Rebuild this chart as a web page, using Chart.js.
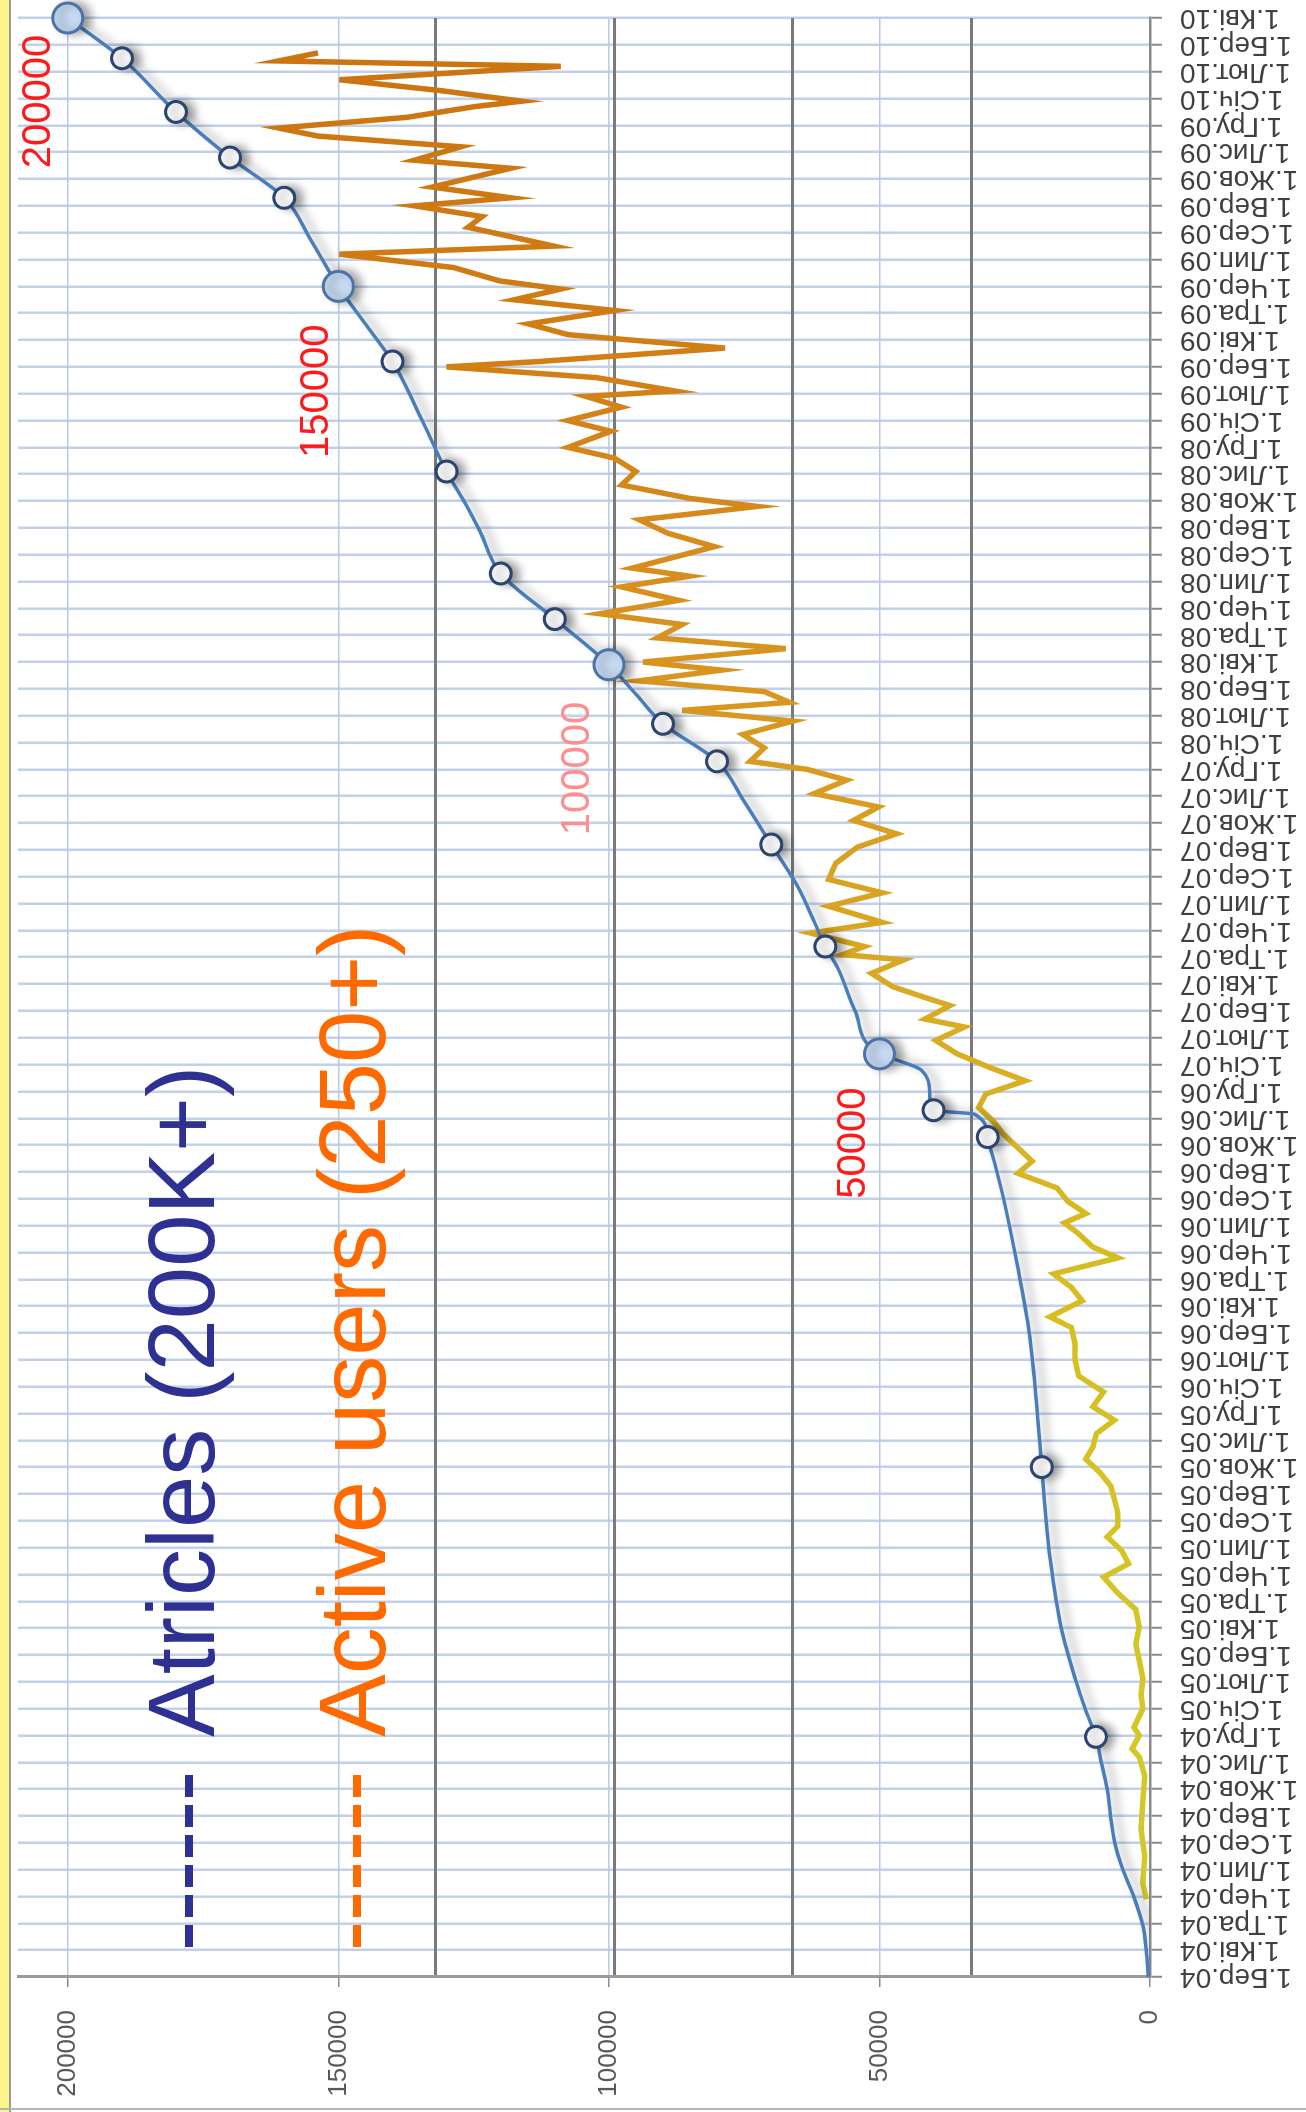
<!DOCTYPE html>
<html>
<head>
<meta charset="utf-8">
<title>Articles and active users</title>
<script src="https://cdn.jsdelivr.net/npm/chart.js@4.4.1/dist/chart.umd.min.js"></script>
<style>
  html, body { margin: 0; padding: 0; width: 1306px; height: 2112px; overflow: hidden; background: #fff; }
  /* the whole chart is laid out landscape and then turned a quarter left */
  #frame {
    position: absolute; left: 0; top: 0; width: 2112px; height: 1306px;
    transform-origin: 0 0; transform: translateY(2112px) rotate(-90deg);
    background: #fff;
  }
  #chartBox { position: absolute; left: 0; top: 0; width: 2112px; height: 1306px; }
  #band { position: absolute; left: 0; top: 0; width: 2112px; height: 9px; background: #fbf58c; border-bottom: 2px solid #9c9c9c; }
  #edge { position: absolute; left: 2px; top: 0; width: 2px; height: 1306px; background: #b4b4b4; }
  .key { position: absolute; left: 165px; width: 180px; height: 8px; }
  .keyText {
    position: absolute; left: 375px; white-space: nowrap;
    font-family: "Liberation Sans", Arial, sans-serif; font-size: 94px; line-height: 94px;
  }
</style>
</head>
<body>
<div id="frame">
  <div id="chartBox"><canvas id="growthChart"></canvas></div>
  <div id="band"></div>
  <div id="edge"></div>
  <div class="key" style="top:185px; background: repeating-linear-gradient(to right, #2e3192 0 22px, transparent 22px 30px);"></div>
  <div class="keyText" style="top:135px; color:#2e3192;">Atricles (200K+)</div>
  <div class="key" style="top:353px; background: repeating-linear-gradient(to right, #ff6a00 0 22px, transparent 22px 30px);"></div>
  <div class="keyText" style="top:306px; color:#ff6a00;">Active users (250+)</div>
</div>
<script>
// month ticks, 1 March 2004 .. 1 April 2010
const monthLabels = [
  '1.Бер.04', '1.Кві.04', '1.Тра.04', '1.Чер.04', '1.Лип.04', '1.Сер.04', '1.Вер.04', '1.Жов.04', '1.Лис.04', '1.Гру.04',
  '1.Січ.05', '1.Лют.05', '1.Бер.05', '1.Кві.05', '1.Тра.05', '1.Чер.05', '1.Лип.05', '1.Сер.05', '1.Вер.05', '1.Жов.05', '1.Лис.05', '1.Гру.05',
  '1.Січ.06', '1.Лют.06', '1.Бер.06', '1.Кві.06', '1.Тра.06', '1.Чер.06', '1.Лип.06', '1.Сер.06', '1.Вер.06', '1.Жов.06', '1.Лис.06', '1.Гру.06',
  '1.Січ.07', '1.Лют.07', '1.Бер.07', '1.Кві.07', '1.Тра.07', '1.Чер.07', '1.Лип.07', '1.Сер.07', '1.Вер.07', '1.Жов.07', '1.Лис.07', '1.Гру.07',
  '1.Січ.08', '1.Лют.08', '1.Бер.08', '1.Кві.08', '1.Тра.08', '1.Чер.08', '1.Лип.08', '1.Сер.08', '1.Вер.08', '1.Жов.08', '1.Лис.08', '1.Гру.08',
  '1.Січ.09', '1.Лют.09', '1.Бер.09', '1.Кві.09', '1.Тра.09', '1.Чер.09', '1.Лип.09', '1.Сер.09', '1.Вер.09', '1.Жов.09', '1.Лис.09', '1.Гру.09',
  '1.Січ.10', '1.Лют.10', '1.Бер.10', '1.Кві.10'
];

// value axis ticks (articles) and the grid of the hidden users axis
const articleTicks = [0, 50000, 100000, 150000, 200000];
const userGridTicks = [50, 100, 150, 200];

// article count, x = months since 1.Бер.04
const articleMonths = [0, 1, 1.9, 3, 4, 5, 6, 7, 8, 8.95, 10, 11.1, 13, 15.5, 17.5, 19, 21.5, 24, 26.5, 28.95,
  30.4, 31.3, 32.15, 32.3, 32.9, 33.8, 34.15, 34.4, 36, 37.6, 38.4, 39.3, 40.6, 42.2, 43.8, 45.3, 46.7, 47.8, 48.9,
  50.6, 52.3, 53.9, 54.9, 56.1, 58, 60.2, 61.6, 63, 64.7, 66.3, 67.8, 69.5, 71.5, 73];
const articleValues = [300, 700, 1300, 3000, 5000, 6500, 7300, 7900, 9000, 10000, 12000, 13800, 16400, 18400, 19400, 20000, 21000, 22300, 24500, 27000,
  28800, 30000, 32400, 40000, 40700, 42300, 46500, 50000, 54500, 57700, 60000, 62000, 65000, 70000, 75000, 80000, 90000, 95000, 100000,
  110000, 120000, 123900, 126500, 130000, 134500, 140000, 145000, 150000, 155000, 160000, 170000, 180000, 190000, 200000];

// every 10 000 articles
const milestoneMonths = [8.95, 19.0, 31.3, 32.3, 34.4, 38.4, 42.2, 45.3, 46.7, 48.9, 50.6, 52.3, 56.1, 60.2, 63.0, 66.3, 67.8, 69.5, 71.5, 73.0];
const milestoneValues = [10000, 20000, 30000, 40000, 50000, 60000, 70000, 80000, 90000, 100000,
  110000, 120000, 130000, 140000, 150000, 160000, 170000, 180000, 190000, 200000];

// active users (right hand scale, not labelled)
const userMonths = [2.9, 3.5, 4.5, 5.5, 6.5, 7.5, 8.2, 8.5, 9.0, 9.3,
  10.0, 10.5, 11.1, 11.8, 12.4, 13.05, 13.7, 14.3, 14.9, 15.4,
  15.9, 16.4, 16.8, 17.3, 17.8, 18.3, 18.8, 19.3, 19.75, 20.25,
  20.75, 21.25, 21.8, 22.4, 23.0, 23.6, 24.2, 24.6, 25.2, 25.7,
  26.2, 26.8, 27.2, 27.7, 28.1, 28.45, 28.9, 29.4, 29.95, 30.4,
  30.9, 31.4, 31.9, 32.4, 32.9, 33.4, 33.9, 34.4, 34.9, 35.4,
  35.7, 36.2, 36.5, 36.9, 37.4, 37.9, 38.1, 38.4, 38.9, 39.3,
  39.9, 40.4, 40.9, 41.5, 42.1, 42.6, 43.1, 43.6, 44.1, 44.6,
  45.0, 45.3, 45.8, 46.3, 46.8, 47.2, 47.5, 47.9, 48.3, 48.7,
  49.0, 49.5, 49.9, 50.4, 50.8, 51.3, 51.8, 52.2, 52.5, 53.3,
  53.8, 54.3, 54.8, 55.1, 55.6, 56.1, 56.6, 57.0, 57.6, 58.0,
  58.5, 58.9, 59.1, 59.6, 60.0, 60.2, 60.7, 61.2, 61.6, 62.1,
  62.5, 62.9, 63.2, 63.7, 64.2, 64.5, 65.0, 65.2, 65.6, 66.0,
  66.3, 66.7, 67.4, 67.7, 68.2, 68.6, 68.9, 69.3, 69.7, 69.9,
  70.3, 70.7, 71.2, 71.4, 71.7];
const userCounts = [1, 2, 1.5, 2.5, 2, 1.5, 3, 5, 3, 4.5,
  2, 2.5, 2, 3, 4, 3, 4, 9, 13, 6,
  8, 12, 9, 9, 10, 11, 14, 18, 16, 15,
  10, 16, 13, 20, 21, 21, 22, 28, 19, 22,
  27, 9, 16, 20, 24, 18, 23, 26, 37, 33,
  37, 41, 44, 48, 46, 35, 45, 54, 60, 52,
  63, 56, 63, 72, 78, 69, 86, 80, 95, 75,
  90, 75, 90, 88, 82, 71, 83, 76, 94, 85,
  96, 112, 108, 114, 100, 131, 101, 108, 143, 120,
  142, 102, 138, 131, 154, 132, 148, 129, 145, 122,
  135, 143, 110, 129, 148, 144, 150, 163, 151, 163,
  148, 158, 133, 155, 197, 171, 119, 163, 174, 150,
  178, 165, 182, 195, 227, 167, 184, 191, 187, 206,
  179, 201, 179, 206, 193, 233, 244, 208, 189, 176,
  199, 227, 165, 244, 233];

// red notes next to the curve, anchored in data units
const noteTexts = ['200000', '150000', '100000', '50000'];
const noteMonths = [67.4, 56.6, 42.55, 29.0];
const noteValues = [203300, 152000, 103700, 52600];
const noteColors = ['#ff1a1a', '#ff1a1a', '#ff8f8f', '#ff1a1a'];

const tickFont = '"Liberation Sans", Arial, sans-serif';

// soft drop shadow under the article curve and its markers
const shadowPlugin = {
    id: 'lineShadow',
    beforeDatasetDraw(chart, args) {
        if (!chart.data.datasets[args.index].shadow) return;
        const c = chart.ctx;
        c.save();
        c.shadowColor = 'rgba(0, 0, 0, 0.35)';
        c.shadowBlur = 10;
        c.shadowOffsetX = 0;
        c.shadowOffsetY = 7;
    },
    afterDatasetDraw(chart, args) {
        if (chart.data.datasets[args.index].shadow) chart.ctx.restore();
    }
};

const notePlugin = {
    id: 'notes',
    afterDatasetsDraw(chart) {
        const { ctx, scales } = chart;
        ctx.save();
        ctx.font = '40px ' + tickFont;
        ctx.textAlign = 'left';
        ctx.textBaseline = 'alphabetic';
        noteTexts.forEach((t, i) => {
            ctx.fillStyle = noteColors[i];
            ctx.fillText(t, scales.x.getPixelForValue(noteMonths[i]), scales.y.getPixelForValue(noteValues[i]));
        });
        ctx.restore();
    }
};

// users line goes from olive yellow to orange-brown over time
function userColor(context) {
    const { ctx, chartArea } = context.chart;
    if (!chartArea) return '#d6b020';
    const g = ctx.createLinearGradient(chartArea.left, 0, chartArea.right, 0);
    g.addColorStop(0, '#d2cc2c');
    g.addColorStop(0.35, '#d6be20');
    g.addColorStop(0.5, '#d9aa24');
    g.addColorStop(0.7, '#d8901e');
    g.addColorStop(0.85, '#d07c14');
    g.addColorStop(1, '#cc7410');
    return g;
}

const isBig = c => milestoneValues[c.dataIndex] % 50000 === 0;

// keep the plot edges where the layout padding puts them
function noEdgePadding(s) {
    s.paddingLeft = 0;
    s.paddingRight = 0;
    s.paddingTop = 0;
    s.paddingBottom = 0;
}

new Chart(document.getElementById('growthChart'), {
    type: 'line',
    data: {
        datasets: [{
            label: 'Milestones',
            data: milestoneMonths.map((m, i) => ({ x: m, y: milestoneValues[i] })),
            showLine: false,
            yAxisID: 'y',
            order: 0,
            clip: false,
            shadow: true,
            pointRadius: c => isBig(c) ? 15 : 10.5,
            pointBackgroundColor: c => isBig(c) ? '#c6daf2' : '#ffffff',
            pointBorderColor: c => isBig(c) ? '#4d72a8' : '#2c4470',
            pointBorderWidth: 3
        }, {
            label: 'Atricles',
            data: articleMonths.map((m, i) => ({ x: m, y: articleValues[i] })),
            borderColor: '#4a7ebb',
            borderWidth: 3.5,
            pointRadius: 0,
            cubicInterpolationMode: 'monotone',
            yAxisID: 'y',
            order: 1,
            shadow: true
        }, {
            label: 'Active users',
            data: userMonths.map((m, i) => ({ x: m, y: userCounts[i] })),
            borderColor: userColor,
            borderWidth: 5.5,
            pointRadius: 0,
            tension: 0,
            yAxisID: 'y2',
            order: 2
        }]
    },
    options: {
        responsive: true,
        maintainAspectRatio: false,
        animation: false,
        layout: { padding: { top: 12, right: 18, bottom: 0, left: 0 } },
        plugins: { legend: { display: false }, tooltip: { enabled: false } },
        scales: {
            x: {
                type: 'linear',
                position: 'bottom',
                min: 0,
                max: monthLabels.length - 1,
                afterBuildTicks: s => { s.ticks = monthLabels.map((_, i) => ({ value: i })); },
                afterFit: s => { s.height = 156; noEdgePadding(s); },
                ticks: {
                    autoSkip: false,
                    minRotation: 90,
                    maxRotation: 90,
                    padding: 18,
                    color: '#404040',
                    font: { family: tickFont, size: 28 },
                    callback: v => monthLabels[v]
                },
                grid: { color: '#c2d0ea', lineWidth: 2.5, tickLength: 12, tickColor: '#8a8a8a', tickWidth: 2 },
                border: { color: '#8a8a8a', width: 2.5 }
            },
            y: {
                position: 'left',
                min: 0,
                max: 209200,
                afterBuildTicks: s => { s.ticks = articleTicks.map(v => ({ value: v })); },
                afterFit: s => { s.width = 135; noEdgePadding(s); },
                ticks: {
                    padding: 23,
                    color: '#595959',
                    font: { family: tickFont, size: 26 },
                    callback: v => String(v)
                },
                grid: { color: '#b8c9e8', lineWidth: 1.5, tickLength: 10, tickColor: '#8a8a8a' },
                border: { color: '#9a9a9a', width: 3 }
            },
            y2: {
                position: 'right',
                min: 0,
                max: 317,
                afterBuildTicks: s => { s.ticks = userGridTicks.map(v => ({ value: v })); },
                afterFit: s => { s.width = 0; noEdgePadding(s); },
                ticks: { display: false },
                grid: { color: '#7a7a7a', lineWidth: 3, drawTicks: false },
                border: { display: false }
            }
        }
    },
    plugins: [shadowPlugin, notePlugin]
});
</script>
</body>
</html>
